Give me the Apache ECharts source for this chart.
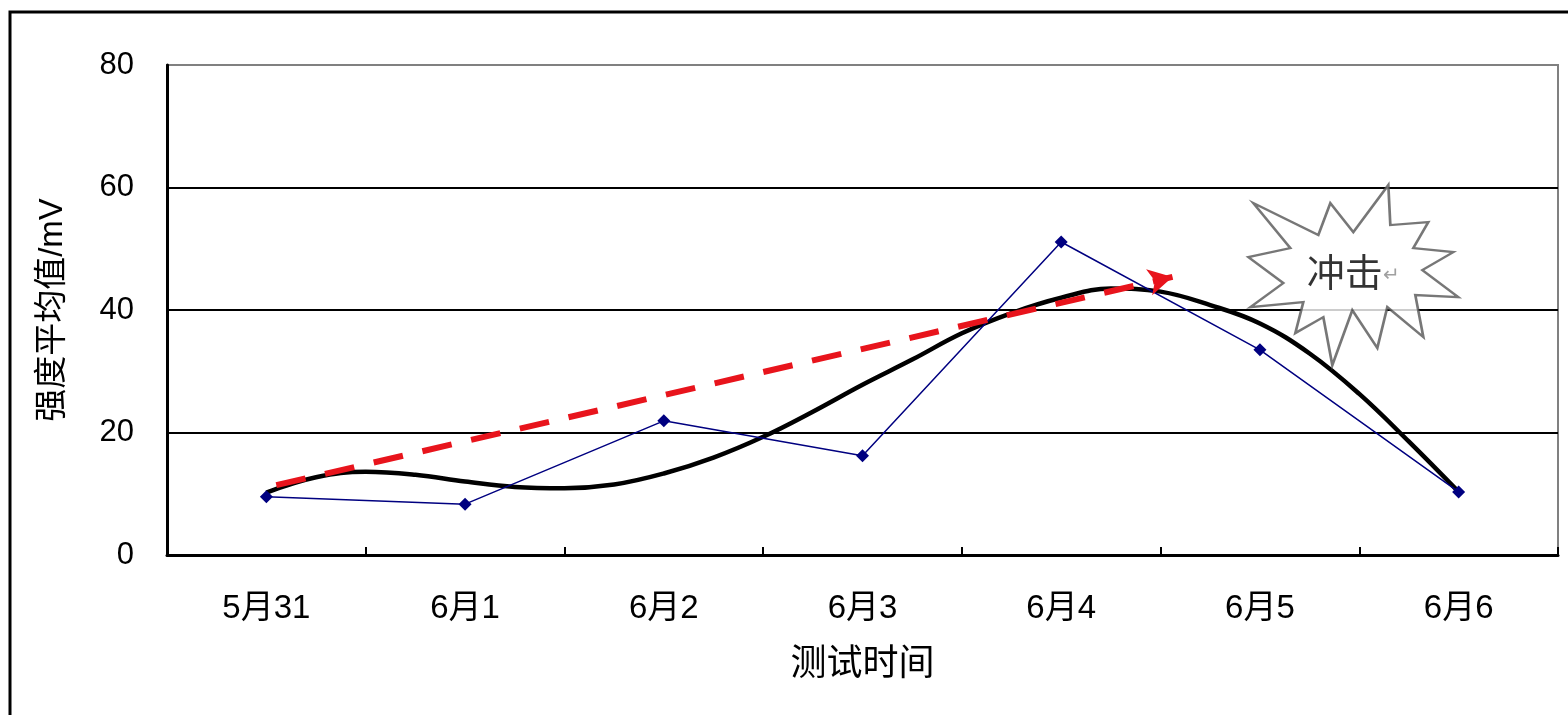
<!DOCTYPE html>
<html><head><meta charset="utf-8">
<script src="https://cdn.jsdelivr.net/npm/echarts@6/dist/echarts.min.js"></script>
<style>html,body{margin:0;padding:0;background:#fff}#c{width:1568px;height:715px}</style>
</head><body><div id="c"></div>
<script>
var categories = ['5月31','6月1','6月2','6月3','6月4','6月5','6月6'];
var intensity = [9.5, 8.3, 21.9, 16.2, 51.1, 33.5, 10.3];
var yTicks = [0, 20, 40, 60, 80];
// trend curve (x in category-slot units, 0..7)
var trendX = [0.5, 0.75, 1.0, 1.25, 1.5, 1.75, 2.0, 2.25, 2.5, 2.75, 3.0, 3.25, 3.5, 3.75, 4.0, 4.25, 4.5, 4.75, 5.0, 5.25, 5.5, 5.75, 6.0, 6.25, 6.5];
var trendY = [10.2, 12.7, 13.6, 13.1, 12.0, 11.1, 10.9, 11.5, 13.3, 15.9, 19.3, 23.4, 27.8, 31.9, 36.2, 39.5, 42.0, 43.5, 43.0, 40.8, 37.8, 32.9, 26.3, 18.5, 10.3];
var arrowStart = [0.55, 11.4];
var arrowEnd = [5.06, 45.4];
var burst = [5.97, 45.7];
var burstText = '冲击';

var FONT = '"Liberation Sans","Noto Sans CJK SC",sans-serif';
var starPath = 'path://M140,0 L142,40 L180,37 L165,63 L205,67 L174,85 L210,112 L167,110 L175,152 L139,122 L129,163 L104,125 L84,180 L75,132 L47,148 L55,117 L2,122 L35,98 L0,72 L42,63 L5,18 L70,50 L82,18 L105,47 Z';

var chart = echarts.init(document.getElementById('c'));
chart.setOption({
  backgroundColor: '#fff',
  animation: false,
  graphic: [{type:'rect', shape:{x:10, y:12, width:1580, height:730}, style:{fill:'none', stroke:'#000', lineWidth:3}, z:100}],
  grid: {left:167, right:10, top:65, bottom:160, show:true, borderColor:'#808080', borderWidth:2, backgroundColor:'transparent'},
  xAxis: [{
    type:'category', data:categories, boundaryGap:true,
    axisLine:{lineStyle:{color:'#000', width:3}},
    axisTick:{show:true, inside:true, length:8, lineStyle:{color:'#000', width:2}},
    axisLabel:{fontSize:33, color:'#000', margin:37, fontFamily:FONT},
    name:'测试时间', nameLocation:'middle', nameGap:92,
    nameTextStyle:{fontSize:36, color:'#000', fontFamily:FONT}
  },{
    type:'value', min:0, max:7, show:false
  }],
  yAxis: {
    type:'value', min:0, max:80, interval:20,
    axisLine:{show:true, lineStyle:{color:'#000', width:3}},
    axisTick:{show:false},
    axisLabel:{fontSize:31, color:'#000', margin:33, fontFamily:FONT},
    splitLine:{show:true, lineStyle:{color:['#000','#000','#000','#000','#808080'], width:2}},
    name:'强度平均值/mV', nameLocation:'middle', nameGap:98, nameRotate:90,
    nameTextStyle:{fontSize:33, color:'#000', fontFamily:FONT}
  },
  series: [
    {
      type:'line', xAxisIndex:1, z:3,
      data: trendX.map(function(x,i){return [x, trendY[i]];}),
      smooth:0.4, showSymbol:false, symbol:'none',
      lineStyle:{color:'#000', width:4.5}
    },
    {
      type:'line', xAxisIndex:0, z:4,
      data:intensity, symbol:'diamond', symbolSize:13,
      itemStyle:{color:'#000080'},
      lineStyle:{color:'#000080', width:1.5}
    },
    {
      type:'line', xAxisIndex:1, z:5, data:[], symbol:'none',
      markLine:{
        silent:true, symbol:['none','arrow'], symbolSize:[20,24],
        label:{show:false},
        lineStyle:{color:'#e8141c', width:6, type:[30,20]},
        data:[[{coord:arrowStart},{coord:arrowEnd}]]
      }
    },
    {
      type:'scatter', xAxisIndex:1, z:6,
      data:[burst], symbol:starPath, symbolSize:[210,180],
      itemStyle:{color:'#fff', borderColor:'#555', borderWidth:2.5},
      label:{show:true, position:'inside', formatter:'{a|' + burstText + '}{b|↵}',
        rich:{a:{fontSize:38, color:'#000', fontFamily:FONT}, b:{fontSize:20, color:'#888', fontFamily:FONT}}}
    }
  ]
});
</script></body></html>
